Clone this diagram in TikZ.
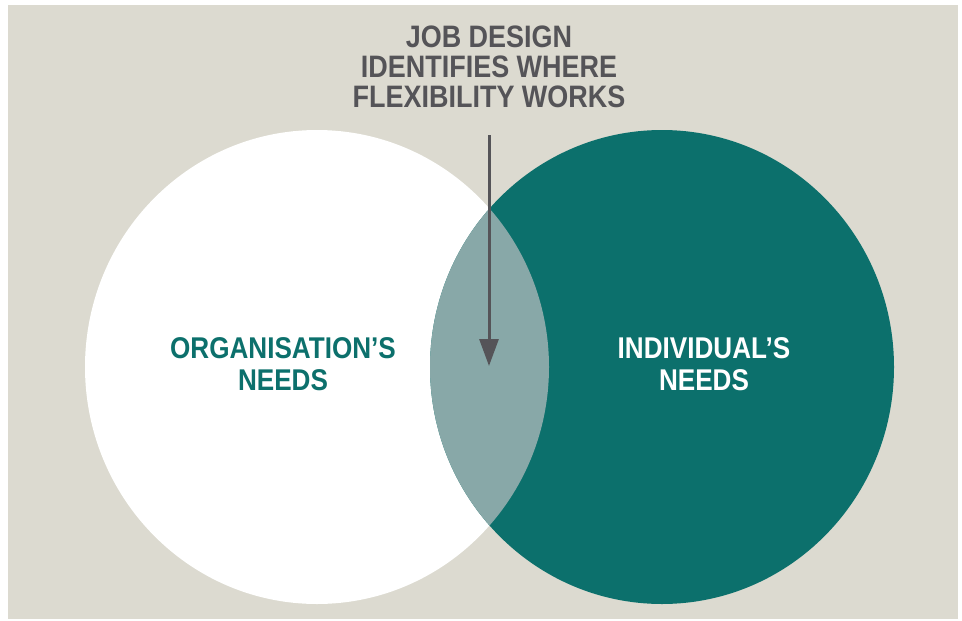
\documentclass[tikz,border=0pt]{standalone}
\usepackage{fontspec}
\setmainfont{Liberation Sans}
\newfontfamily\narrowsans[FakeStretch=0.87]{Liberation Sans}
\usepackage{xcolor}
\usetikzlibrary{arrows.meta,positioning,shapes.geometric}
\definecolor{paper}{RGB}{220,218,208}
\definecolor{teal}{RGB}{12,112,108}
\definecolor{lens}{RGB}{136,168,168}
\definecolor{pointergray}{RGB}{85,84,88}
\tikzset{
  need/.style={ellipse, minimum width=464pt, minimum height=474pt, inner sep=0pt},
  caps/.style={align=center, font=\narrowsans\bfseries\fontsize{30}{32}\selectfont},
  pointer/.style={-{Triangle[width=19pt, length=27pt]}, line width=3pt, draw=pointergray}
}

\begin{document}
\begin{tikzpicture}[x=1pt, y=-1pt]
        \useasboundingbox (0,0) rectangle (962,621);
        \fill[white] (0,0) rectangle (962,621);
        \fill[paper] (8,5) rectangle (958,619);

        \node[need, fill=white] (org) at (317,367) {};
        \node[need, fill=teal] (ind) at (662,367) {};
        \begin{scope}
          \clip (org.center) ellipse [x radius=232, y radius=237];
          \fill[lens] (ind.center) ellipse [x radius=232, y radius=237];
        \end{scope}

        \node[caps, text=pointergray, font=\narrowsans\bfseries\fontsize{31}{30}\selectfont] (title) at (489,67) {JOB DESIGN\\IDENTIFIES WHERE\\FLEXIBILITY WORKS};
        \node[caps, text=teal] (orgtext) at (283,364) {ORGANISATION’S\\NEEDS};
        \node[caps, text=white] (indtext) at (704,364) {INDIVIDUAL’S\\NEEDS};

        \coordinate (start) at (489,135);
        \coordinate (tip) at (489,366);
        \draw[pointer] (start) -- (tip);
      \end{tikzpicture}
\end{document}
